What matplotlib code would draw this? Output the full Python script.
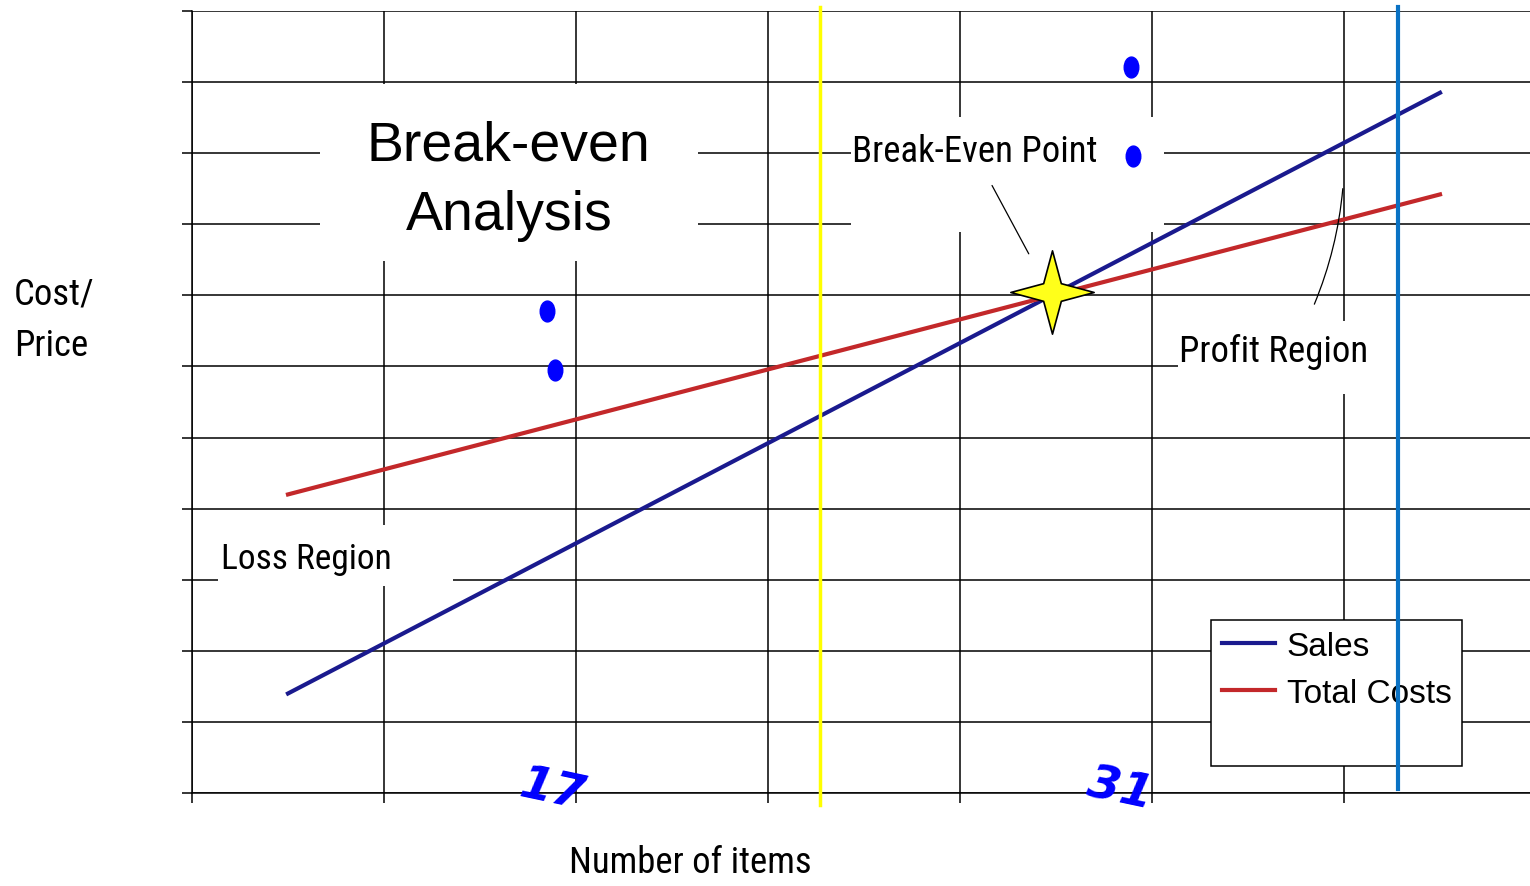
import numpy as np
import matplotlib
matplotlib.use("Agg")
import matplotlib.pyplot as plt
from matplotlib.patches import Rectangle
from matplotlib.path import Path

# data (grid units)
items = [0.5, 6.5]
sales = [1.4, 9.85]
total_costs = [4.2, 8.42]
marker_lines = [3.27, 6.28]          # yellow / blue vertical lines
note_x = [1.85, 1.89, 4.89, 4.90]    # blue pen dots
note_y = [6.78, 5.95, 10.21, 8.96]
note_labels = ["17", "31"]
note_label_x = [1.88, 4.83]

narrow = ["Roboto Condensed", "Liberation Sans Narrow", "DejaVu Sans"]
arial = ["Liberation Sans", "DejaVu Sans"]

# break-even point from the two lines
s_slope = (sales[1] - sales[0]) / (items[1] - items[0])
c_slope = (total_costs[1] - total_costs[0]) / (items[1] - items[0])
be_x = items[0] + (total_costs[0] - sales[0]) / (s_slope - c_slope)
be_y = sales[0] + s_slope * (be_x - items[0])

fig = plt.figure(figsize=(15.3, 8.87), dpi=100)
ax = fig.add_axes([192 / 1530, 93 / 887, 1338 / 1530, 782 / 887])
ax.set_xlim(0, 1338 / 192)
ax.set_ylim(0, 11)
ax.set_xticks(range(0, 7))
ax.set_yticks(range(0, 12))
ax.set_axisbelow(True)
ax.grid(True, color="black", lw=1.1)
ax.tick_params(direction="out", length=7, width=1.1, color="black",
               labelleft=False, labelbottom=False)
for s in ["top", "right"]:
    ax.spines[s].set_visible(False)
for s in ["left", "bottom"]:
    ax.spines[s].set_linewidth(1.1)

# white cut-outs behind the labels
for (x0, y0, w, h) in [(0.667, 7.48, 1.968, 2.50), (3.43, 7.89, 1.63, 1.62),
                       (5.135, 5.61, 1.9, 1.03), (0.135, 2.91, 1.225, 0.86)]:
    ax.add_patch(Rectangle((x0, y0), w, h, fc="white", ec="none", zorder=1))

ax.plot(items, sales, color="#1a1a8e", lw=3, label="Sales", zorder=3)
ax.plot(items, total_costs, color="#c3282a", lw=3, label="Total Costs", zorder=3)
ax.plot([], [], color="none", label=" ")

ax.axvline(marker_lines[0], ymin=-0.015, ymax=1.005, color="#ffff00", lw=2.5,
           clip_on=False, zorder=4)
ax.axvline(marker_lines[1], ymin=0.005, ymax=1.005, color="#0a72c4", lw=3,
           clip_on=False, zorder=6)

star = Path.unit_regular_star(4, 0.3)
ax.plot(be_x + 0.01, be_y + 0.05, marker=star, markersize=60,
        markerfacecolor="#ffff1a", markeredgecolor="black",
        markeredgewidth=1.2, zorder=5)

ax.text(1.65, 8.62, "Break-even\nAnalysis", fontsize=40, family=arial,
        ha="center", va="center", linespacing=1.42, zorder=2)
ax.text(3.44, 9.03, "Break-Even Point", fontsize=26.5, family=narrow,
        fontstretch="condensed", ha="left", va="center", zorder=2)
ax.text(5.14, 6.22, "Profit Region", fontsize=26.5, family=narrow,
        fontstretch="condensed", ha="left", va="center", zorder=2)
ax.text(0.15, 3.3, "Loss Region", fontsize=25.5, family=narrow,
        fontstretch="condensed", ha="left", va="center", zorder=2)

ax.annotate("", xy=(4.365, 7.55), xytext=(4.16, 8.58),
            arrowprops=dict(arrowstyle="-", color="black", lw=0.9))
ax.annotate("", xy=(5.995, 8.54), xytext=(5.84, 6.84),
            arrowprops=dict(arrowstyle="-", color="black", lw=0.9,
                            connectionstyle="arc3,rad=0.08"))

blob = Path(Path.unit_circle().vertices * [0.7, 1.0], Path.unit_circle().codes)
ax.plot(note_x, note_y, linestyle="none", marker=blob, color="#0000ff",
        markersize=15, zorder=7)
for lab, lx in zip(note_labels, note_label_x):
    ax.text(lx, 0.05, lab, color="#0000ff", fontsize=34, fontweight="bold",
            family=["DejaVu Sans"], ha="center", va="center", rotation=-12,
            style="italic", zorder=7, clip_on=False)

leg = ax.legend(loc="upper left", bbox_to_anchor=(1211 / 1530, 1 - 621 / 887),
                bbox_transform=fig.transFigure, borderaxespad=0,
                prop=dict(family=arial, size=24), handlelength=1.6,
                handletextpad=0.35, labelspacing=0.48, borderpad=0.32,
                fancybox=False, framealpha=1, edgecolor="black")
leg.get_frame().set_linewidth(1.1)
leg.set_zorder(5)

fig.text(14 / 1530, 1 - 320 / 887, "Cost/\nPrice", fontsize=26.5, family=narrow,
         fontstretch="condensed", ha="left", va="center", linespacing=1.55)
fig.text(690 / 1530, 1 - 863 / 887, "Number of items", fontsize=26.5,
         family=narrow, fontstretch="condensed", ha="center", va="center")

fig.savefig("out.png", dpi=100, facecolor="white")
